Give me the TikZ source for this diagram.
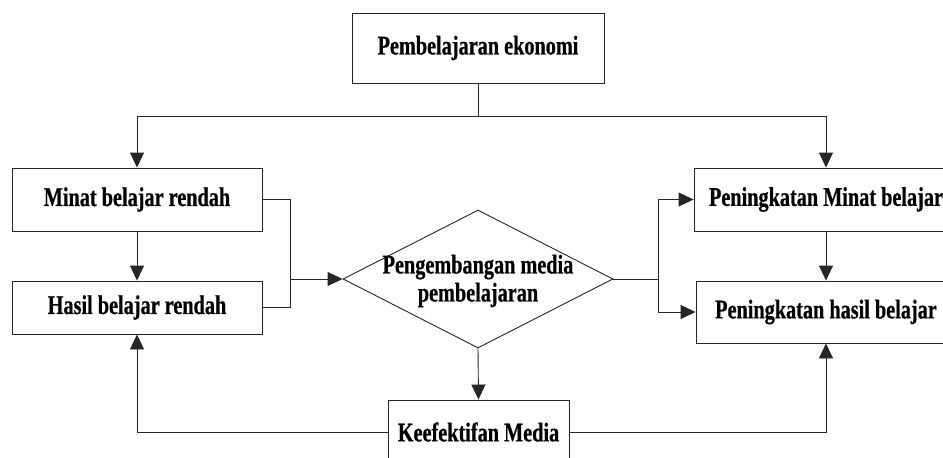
\documentclass[tikz,border=0pt]{standalone}
\usepackage{fontspec}
\setmainfont{Liberation Serif}[FakeStretch=0.75,BoldFeatures={FakeBold=0.6}]
\usetikzlibrary{shapes.geometric,arrows.meta}
\begin{document}
\begin{tikzpicture}[x=1pt,y=-1pt,
  box/.style={draw=black!85,line width=0.9pt,rectangle,inner sep=0pt,
    font=\fontsize{27}{28}\selectfont\bfseries},
  lbl/.style={font=\fontsize{27}{28}\selectfont\bfseries,inner sep=0pt,align=center},
  conn/.style={draw=black!85,line width=0.9pt},
  arr/.style={conn,-{Triangle[length=15pt,width=14pt]}}]
\useasboundingbox (0,0) rectangle (943,458);
\clip (0,0) rectangle (943,458);
\node[box,minimum width=252pt,minimum height=70pt] (top) at (478,48) {Pembelajaran ekonomi};
\node[box,minimum width=250pt,minimum height=63pt] (minat) at (137,199.5) {Minat belajar rendah};
\node[box,minimum width=250pt,minimum height=53pt] (hasil) at (137,307.5) {Hasil belajar rendah};
\node[box,diamond,aspect=1.96,minimum width=270pt,minimum height=138pt] (dia) at (478,279) {};
\node[lbl] (diatext) at (478,281) {Pengembangan media\\[0pt]pembelajaran};
\node[box,minimum width=264pt,minimum height=63pt] (rtop) at (826,199.5) {Peningkatan Minat belajar};
\node[box,minimum width=260pt,minimum height=62pt] (rbot) at (826,312) {Peningkatan hasil belajar};
\node[box,minimum width=181pt,minimum height=64pt] (keef) at (478.5,432) {Keefektifan Media};
\coordinate (j) at (478,116);
\coordinate (m) at (290,279);
\coordinate (r) at (658,279);
\draw[conn] (top.south) -- (j);
\draw[arr] (j) -| (minat.north);
\draw[arr] (j) -| (rtop.north);
\draw[arr] (minat.south) -- (hasil.north);
\draw[conn] (minat.east) -| (m);
\draw[conn] (hasil.east) -| (m);
\draw[arr] (m) -- (dia.west);
\draw[conn] (dia.east) -- (r);
\draw[arr] (r) |- (rtop.west);
\draw[arr] (r) |- (rbot.west);
\draw[arr] (rtop.south) -- (rbot.north);
\draw[arr] (dia.south) -- (keef.north);
\draw[arr] (keef.west) -| (hasil.south);
\draw[arr] (keef.east) -| (rbot.south);
\end{tikzpicture}
\end{document}
